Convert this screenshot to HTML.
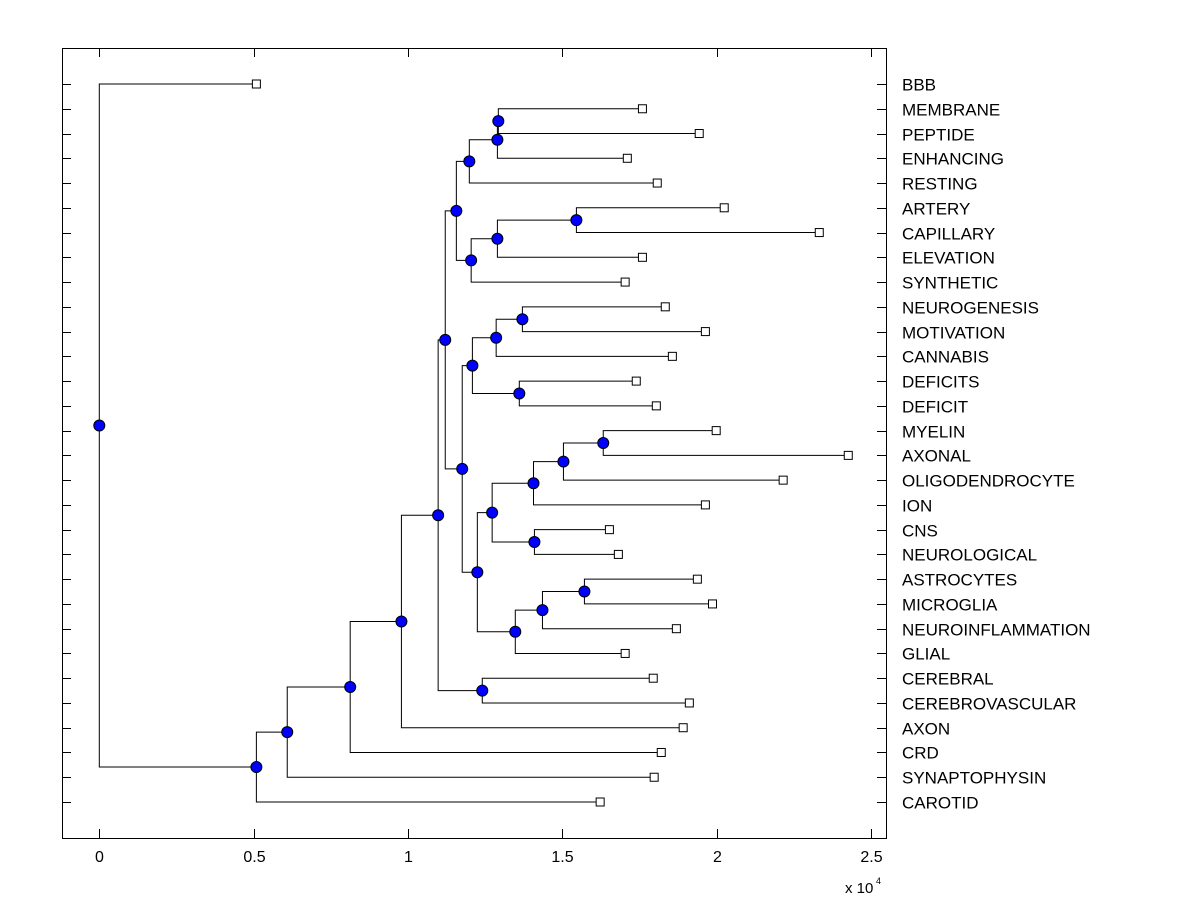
<!DOCTYPE html>
<html><head><meta charset="utf-8"><style>
body{margin:0;background:#fff;}
svg text{font-family:"Liberation Sans",Arial,sans-serif;}
</style></head><body>
<svg id="chart" width="1200" height="900" viewBox="0 0 1200 900">
<rect x="0" y="0" width="1200" height="900" fill="#fff"/>
<g id="links"></g>
<g id="markers"></g>
<g id="axes"></g>
</svg>
<script>
const leafNames = ["BBB","MEMBRANE","PEPTIDE","ENHANCING","RESTING","ARTERY","CAPILLARY","ELEVATION","SYNTHETIC","NEUROGENESIS","MOTIVATION","CANNABIS","DEFICITS","DEFICIT","MYELIN","AXONAL","OLIGODENDROCYTE","ION","CNS","NEUROLOGICAL","ASTROCYTES","MICROGLIA","NEUROINFLAMMATION","GLIAL","CEREBRAL","CEREBROVASCULAR","AXON","CRD","SYNAPTOPHYSIN","CAROTID"];
const leafValues = [0.509,1.760,1.944,1.711,1.808,2.025,2.333,1.760,1.704,1.834,1.964,1.857,1.740,1.805,1.999,2.427,2.216,1.964,1.653,1.682,1.938,1.987,1.870,1.704,1.795,1.912,1.892,1.821,1.798,1.623];
const mergeIds    = ["pm","pe","re","ac","ae","as2","top","nm","nmc","dd","nd","ma","mo","mi","cn","ion","am","amn","amg","lo","mid","upper","cc","uc","ax","cr","sy","ca","root"];
const mergeLeft   = ["MEMBRANE","pm","pe","ARTERY","ac","ae","re","NEUROGENESIS","nm","DEFICITS","nmc","MYELIN","ma","mo","CNS","mi","ASTROCYTES","am","amn","ion","nd","top","CEREBRAL","upper","uc","ax","cr","sy","BBB"];
const mergeRight  = ["PEPTIDE","ENHANCING","RESTING","CAPILLARY","ELEVATION","SYNTHETIC","as2","MOTIVATION","CANNABIS","DEFICIT","dd","AXONAL","OLIGODENDROCYTE","ION","NEUROLOGICAL","cn","MICROGLIA","NEUROINFLAMMATION","GLIAL","amg","lo","mid","CEREBROVASCULAR","cc","AXON","CRD","SYNAPTOPHYSIN","CAROTID","ca"];
const mergeHeight = [1.293,1.290,1.199,1.546,1.290,1.205,1.157,1.371,1.286,1.361,1.209,1.633,1.504,1.407,1.410,1.273,1.572,1.436,1.348,1.225,1.176,1.121,1.241,1.098,0.979,0.813,0.609,0.509,0];
const xTicks = [0,0.5,1,1.5,2,2.5];
const xTickLabels = ["0","0.5","1","1.5","2","2.5"];

const NS="http://www.w3.org/2000/svg";
const L=62,R=886,T=48,B=838;
const xs=v=>99.3+308.6*v;
const ys=i=>84+i*(802-84)/29;
function mk(tag,attrs,parent){const e=document.createElementNS(NS,tag);for(const k in attrs)e.setAttribute(k,attrs[k]);parent.appendChild(e);return e;}
const links=document.getElementById('links'),marks=document.getElementById('markers'),axes=document.getElementById('axes');

const nodes={};
leafNames.forEach((n,i)=>{nodes[n]={x:leafValues[i],y:ys(i),leaf:true};});
mergeIds.forEach((id,i)=>{
  const a=nodes[mergeLeft[i]],b=nodes[mergeRight[i]];
  nodes[id]={x:mergeHeight[i],y:(a.y+b.y)/2,a:mergeLeft[i],b:mergeRight[i]};
});

Object.keys(nodes).forEach(id=>{
  const n=nodes[id];if(n.leaf)return;
  const a=nodes[n.a],b=nodes[n.b];
  const p=mk('path',{d:`M${xs(a.x)},${a.y}H${xs(n.x)}V${b.y}H${xs(b.x)}`,fill:'none',stroke:'#000','stroke-width':1},links);
  
  
});
Object.keys(nodes).forEach(id=>{
  const n=nodes[id];
  if(n.leaf){
    const r=mk('rect',{x:xs(n.x)-4,y:n.y-4,width:8,height:8,fill:'#fff',stroke:'#000','stroke-width':1},marks);
    
    
  }else{
    const c=mk('circle',{cx:xs(n.x),cy:n.y,r:5.5,fill:'#0000ff',stroke:'#000','stroke-width':1},marks);
    
    
  }
});
const box=mk('rect',{x:L+0.5,y:T+0.5,width:R-L,height:B-T,fill:'none',stroke:'#000','stroke-width':1},axes);


xTicks.forEach((t,i)=>{
  const x=Math.round(xs(t))+0.5;
  mk('line',{x1:x,x2:x,y1:B,y2:B-9,stroke:'#000'},axes);
  mk('line',{x1:x,x2:x,y1:T,y2:T+9,stroke:'#000'},axes);
  const tx=mk('text',{x:x,y:B+24,'text-anchor':'middle','font-size':16,fill:'#000'},axes);
  tx.textContent=xTickLabels[i];
  
  
});
leafNames.forEach((n,i)=>{
  const y=Math.round(ys(i))+0.5;
  mk('line',{x1:L,x2:L+9,y1:y,y2:y,stroke:'#000'},axes);
  mk('line',{x1:R-9,x2:R,y1:y,y2:y,stroke:'#000'},axes);
  const tx=mk('text',{x:902,y:y+6,'font-size':17,fill:'#000'},axes);
  tx.textContent=n;
  
  
});
const ex=mk('text',{x:845,y:893,'font-size':15,fill:'#000'},axes);
ex.textContent='x 10';


const ex2=mk('text',{x:876,y:884,'font-size':9,fill:'#000'},axes);
ex2.textContent='4';


</script>
</body></html>
